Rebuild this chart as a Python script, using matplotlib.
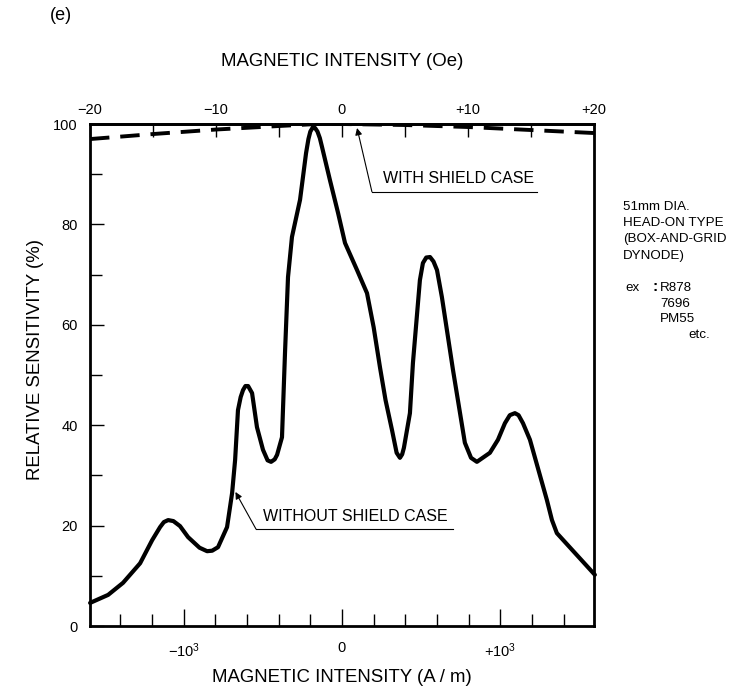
import numpy as np
import matplotlib
matplotlib.use("Agg")
import matplotlib.pyplot as plt
from matplotlib.ticker import MultipleLocator, FixedLocator, FixedFormatter

plt.rcParams['font.family'] = ['Liberation Sans', 'DejaVu Sans']
plt.rcParams['mathtext.fontset'] = 'custom'
plt.rcParams['mathtext.rm'] = 'Liberation Sans'
plt.rcParams['mathtext.default'] = 'regular'

# 1 Oe = 1000/(4*pi) A/m
OE = 1000.0 / (4 * np.pi)

# without shield case: field (A/m), relative sensitivity (%)
bare_field = [-1591, -1477, -1383, -1275, -1199, -1149, -1125, -1098, -1065, -1023,
              -972, -900, -852, -820, -783, -726, -694, -675, -657, -640,
              -625, -610, -593, -568, -537, -499, -470, -448, -425, -410,
              -379, -360, -341, -316, -265, -227, -212, -200, -183, -170,
              -155, -140, -126, -76, -25, 19, 95, 158, 200, 240,
              275, 316, 345, 366, 380, 391, 429, 448, 492, 511,
              532, 556, 578, 600, 631, 701, 776, 815, 852, 934,
              985, 1029, 1060, 1092, 1115, 1143, 1187, 1294, 1326, 1357,
              1597]
bare_sens = [4.6, 6.2, 8.6, 12.5, 17.1, 19.7, 20.7, 21.1, 20.9, 19.9,
             17.7, 15.6, 14.9, 15.0, 15.7, 19.7, 26.5, 33.1, 43.0, 45.6,
             47.0, 47.8, 47.8, 46.4, 39.6, 35.1, 33.0, 32.7, 33.2, 34.1,
             37.6, 54.4, 69.5, 77.5, 84.9, 94.2, 97.0, 98.5, 99.4, 99.2,
             98.5, 97.2, 95.4, 88.8, 82.3, 76.3, 70.9, 66.3, 59.5, 51.5,
             45.0, 39.0, 34.5, 33.5, 34.2, 35.5, 42.4, 52.4, 68.9, 72.3,
             73.4, 73.5, 72.6, 70.9, 65.5, 51.0, 36.5, 33.5, 32.7, 34.5,
             37.1, 40.4, 42.0, 42.4, 42.0, 40.4, 37.1, 25.1, 21.1, 18.5,
             10.2]

# with shield case: field (Oe), relative sensitivity (%)
shield_oe = [-20, -15, -10, -5, -2, 0, 5, 10, 15, 20]
shield_sens = [97.0, 98.0, 98.9, 99.6, 100.0, 100.0, 99.8, 99.4, 98.8, 98.2]

top_ticks = [-20, -10, 0, 10, 20]
top_labels = ['\u221220', '\u221210', '0', '+10', '+20']
bottom_ticks = [-1000, 0, 1000]
bottom_labels = ['\u221210$^3$', '0', '+10$^3$']

fig = plt.figure(figsize=(7.52, 6.89), dpi=100)
ax = fig.add_axes([90 / 752, 1 - 626 / 689, 504 / 752, 502 / 689])

ax.plot(bare_field, bare_sens, color='black', lw=3.0, solid_joinstyle='round',
        solid_capstyle='round', clip_on=False, zorder=3)
ax.plot(np.array(shield_oe) * OE, shield_sens, color='black', lw=2.8,
        dashes=(5.0, 2.8), clip_on=True, zorder=3)

xmax = 20 * OE
ax.set_xlim(-xmax, xmax)
ax.set_ylim(0, 100)

for s in ax.spines.values():
    s.set_linewidth(2.0)

ax.xaxis.set_major_locator(FixedLocator(bottom_ticks))
ax.xaxis.set_major_formatter(FixedFormatter(bottom_labels))
ax.xaxis.set_minor_locator(MultipleLocator(200))
ax.yaxis.set_major_locator(MultipleLocator(20))
ax.yaxis.set_minor_locator(MultipleLocator(10))
ax.tick_params(axis='x', which='major', direction='in', length=12, width=1.0,
               labelsize=10.5, pad=11)
ax.tick_params(axis='x', which='minor', direction='in', length=8.5, width=1.0)
ax.tick_params(axis='y', which='major', direction='in', length=10, width=1.0,
               labelsize=10.5, pad=9)
ax.tick_params(axis='y', which='minor', direction='in', length=8.5, width=1.0)

sec = ax.secondary_xaxis('top', functions=(lambda a: a / OE, lambda o: o * OE))
sec.xaxis.set_major_locator(FixedLocator(top_ticks))
sec.xaxis.set_major_formatter(FixedFormatter(top_labels))
sec.xaxis.set_minor_locator(MultipleLocator(5))
sec.tick_params(axis='x', which='major', direction='in', length=9, width=1.0,
                labelsize=10.5, pad=5)
sec.tick_params(axis='x', which='minor', direction='in', length=9, width=1.0)
sec.spines['top'].set_linewidth(2.0)

# leader lines
def leader(tip, corner, end):
    ax.annotate('', xy=tip, xytext=corner,
                arrowprops=dict(arrowstyle='-|>', lw=0.8, color='black',
                                mutation_scale=10, shrinkA=0, shrinkB=0),
                annotation_clip=False)
    ax.plot([corner[0], end[0]], [corner[1], end[1]], color='black', lw=0.8,
            clip_on=False)

leader((95, 99.2), (189, 86.5), (1231, 86.5))
ax.text(259, 87.6, 'WITH SHIELD CASE', fontsize=11.5, ha='left', va='bottom')
leader((-673, 26.7), (-543, 19.3), (701, 19.3))
ax.text(-499, 20.4, 'WITHOUT SHIELD CASE', fontsize=11.5, ha='left', va='bottom')

fig.text(342 / 752, 1 - 62 / 689, 'MAGNETIC INTENSITY (Oe)', fontsize=13.4,
         ha='center', va='center')
fig.text(342 / 752, 1 - 678 / 689, 'MAGNETIC INTENSITY (A / m)', fontsize=13.4,
         ha='center', va='center')
fig.text(36 / 752, 1 - 360 / 689, 'RELATIVE SENSITIVITY (%)', fontsize=13.4,
         ha='center', va='center', rotation=90)
fig.text(50 / 752, 1 - 16 / 689, '(e)', fontsize=13, ha='left', va='center')

info = ['51mm DIA.', 'HEAD-ON TYPE', '(BOX-AND-GRID', 'DYNODE)']
for i, line in enumerate(info):
    fig.text(623 / 752, 1 - (207 + 16.2 * i) / 689, line, fontsize=9.6,
             ha='left', va='center')
fig.text(625 / 752, 1 - 288 / 689, 'ex', fontsize=9.6, ha='left', va='center')
fig.text(652 / 752, 1 - 287 / 689, ':', fontsize=11, ha='left', va='center',
         fontweight='bold')
examples = ['R878', '7696', 'PM55']
for i, line in enumerate(examples):
    fig.text(660 / 752, 1 - (288 + 15.7 * i) / 689, line, fontsize=9.6,
             ha='left', va='center')
fig.text(688 / 752, 1 - 335 / 689, 'etc.', fontsize=9.6, ha='left', va='center')

fig.savefig('out.png', dpi=100)
